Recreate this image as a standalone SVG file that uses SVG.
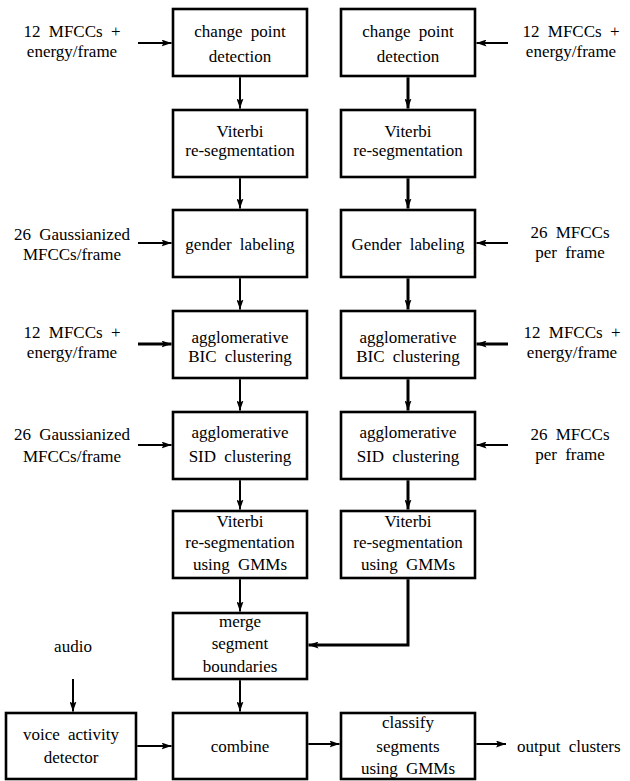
<svg xmlns="http://www.w3.org/2000/svg" width="630" height="781" viewBox="0 0 630 781">
<style>
  .box { fill: #fff; stroke: #000; stroke-width: 2.6; }
  text { font-family: "Liberation Serif", "DejaVu Serif", "Times New Roman", serif; font-size: 17px; fill: #000; text-anchor: middle; word-spacing: 4px; }
  .c { fill: none; stroke: #000; stroke-width: 2; }
  .t { fill: none; stroke: #000; stroke-width: 3; }
</style>
<defs>
  <marker id="ah" markerUnits="userSpaceOnUse" markerWidth="10" markerHeight="7" refX="10" refY="3.5" orient="auto">
    <path d="M0,0 L10,3.5 L0,7 L2,3.5 z" fill="#000"/>
  </marker>
</defs>
<rect width="630" height="781" fill="#fff"/>

<g id="L1"><rect class="box" x="173" y="9" width="134" height="67"/><text x="240" y="37">change point</text><text x="240" y="62">detection</text></g>
<g id="L2"><rect class="box" x="173" y="110" width="134" height="67"/><text x="240" y="137">Viterbi</text><text x="240" y="156">re-segmentation</text></g>
<g id="L3"><rect class="box" x="173" y="210" width="134" height="67"/><text x="240" y="250">gender labeling</text></g>
<g id="L4"><rect class="box" x="173" y="311" width="134" height="67"/><text x="240" y="343">agglomerative</text><text x="240" y="362">BIC clustering</text></g>
<g id="L5"><rect class="box" x="173" y="412" width="134" height="67"/><text x="240" y="438">agglomerative</text><text x="240" y="462">SID clustering</text></g>
<g id="L6"><rect class="box" x="173" y="511" width="134" height="67"/><text x="240" y="527">Viterbi</text><text x="240" y="548">re-segmentation</text><text x="240" y="570">using GMMs</text></g>

<g id="R1"><rect class="box" x="341" y="9" width="134" height="67"/><text x="408" y="37">change point</text><text x="408" y="62">detection</text></g>
<g id="R2"><rect class="box" x="341" y="110" width="134" height="67"/><text x="408" y="137">Viterbi</text><text x="408" y="156">re-segmentation</text></g>
<g id="R3"><rect class="box" x="341" y="210" width="134" height="67"/><text x="408" y="250">Gender labeling</text></g>
<g id="R4"><rect class="box" x="341" y="311" width="134" height="67"/><text x="408" y="343">agglomerative</text><text x="408" y="362">BIC clustering</text></g>
<g id="R5"><rect class="box" x="341" y="412" width="134" height="67"/><text x="408" y="438">agglomerative</text><text x="408" y="462">SID clustering</text></g>
<g id="R6"><rect class="box" x="341" y="511" width="134" height="67"/><text x="408" y="527">Viterbi</text><text x="408" y="548">re-segmentation</text><text x="408" y="570">using GMMs</text></g>

<g id="merge"><rect class="box" x="173" y="613" width="134" height="66"/><text x="240" y="627">merge</text><text x="240" y="649">segment</text><text x="240" y="672">boundaries</text></g>
<g id="vad"><rect class="box" x="6" y="713" width="130" height="66"/><text x="71" y="740">voice activity</text><text x="71" y="763">detector</text></g>
<g id="combine"><rect class="box" x="173" y="713" width="134" height="66"/><text x="240" y="752">combine</text></g>
<g id="classify"><rect class="box" x="341" y="713" width="134" height="66"/><text x="408" y="728">classify</text><text x="408" y="752">segments</text><text x="408" y="774">using GMMs</text></g>

<g id="labels">
  <text x="72" y="37">12 MFCCs +</text><text x="72" y="57">energy/frame</text>
  <text x="72" y="240">26 Gaussianized</text><text x="72" y="260">MFCCs/frame</text>
  <text x="72" y="338">12 MFCCs +</text><text x="72" y="358">energy/frame</text>
  <text x="72" y="440">26 Gaussianized</text><text x="72" y="462">MFCCs/frame</text>
  <text x="571" y="37">12 MFCCs +</text><text x="571" y="57">energy/frame</text>
  <text x="570" y="238">26 MFCCs</text><text x="570" y="258">per frame</text>
  <text x="572" y="338">12 MFCCs +</text><text x="572" y="358">energy/frame</text>
  <text x="570" y="440">26 MFCCs</text><text x="570" y="460">per frame</text>
  <text x="73" y="652">audio</text>
  <text x="517" y="752" style="text-anchor:start">output clusters</text>
</g>

<g id="connectors">
  <line class="c" x1="138" y1="43" x2="171.5" y2="43" marker-end="url(#ah)"/>
  <line class="c" x1="138" y1="243" x2="171.5" y2="243" marker-end="url(#ah)"/>
  <line class="t" x1="138" y1="344" x2="171.5" y2="344" marker-end="url(#ah)"/>
  <line class="c" x1="138" y1="445" x2="171.5" y2="445" marker-end="url(#ah)"/>
  <line class="c" x1="508" y1="43" x2="476.5" y2="43" marker-end="url(#ah)"/>
  <line class="c" x1="508" y1="243" x2="476.5" y2="243" marker-end="url(#ah)"/>
  <line class="t" x1="508" y1="344" x2="476.5" y2="344" marker-end="url(#ah)"/>
  <line class="c" x1="508" y1="445" x2="476.5" y2="445" marker-end="url(#ah)"/>

  <line class="c" x1="240" y1="77.3" x2="240" y2="108.5" marker-end="url(#ah)"/>
  <line class="c" x1="240" y1="178.3" x2="240" y2="208.5" marker-end="url(#ah)"/>
  <line class="c" x1="240" y1="278.3" x2="240" y2="309.5" marker-end="url(#ah)"/>
  <line class="c" x1="240" y1="379.3" x2="240" y2="410.5" marker-end="url(#ah)"/>
  <line class="c" x1="240" y1="480.3" x2="240" y2="509.5" marker-end="url(#ah)"/>
  <line class="c" x1="240" y1="579.3" x2="240" y2="611.5" marker-end="url(#ah)"/>
  <line class="c" x1="240" y1="680.3" x2="240" y2="711.5" marker-end="url(#ah)"/>

  <line class="t" x1="408" y1="77.3" x2="408" y2="108.5" marker-end="url(#ah)"/>
  <line class="t" x1="408" y1="178.3" x2="408" y2="208.5" marker-end="url(#ah)"/>
  <line class="t" x1="408" y1="278.3" x2="408" y2="309.5" marker-end="url(#ah)"/>
  <line class="t" x1="408" y1="379.3" x2="408" y2="410.5" marker-end="url(#ah)"/>
  <line class="t" x1="408" y1="480.3" x2="408" y2="509.5" marker-end="url(#ah)"/>
  <polyline class="t" points="408,579.3 408,645 308.5,645" marker-end="url(#ah)"/>

  <line class="c" x1="73" y1="679" x2="73" y2="711.5" marker-end="url(#ah)"/>
  <line class="c" x1="137.3" y1="746" x2="171.5" y2="746" marker-end="url(#ah)"/>
  <line class="c" x1="308.3" y1="744" x2="339.5" y2="744" marker-end="url(#ah)"/>
  <line class="c" x1="476.3" y1="744" x2="506" y2="744" marker-end="url(#ah)"/>
</g>
</svg>
